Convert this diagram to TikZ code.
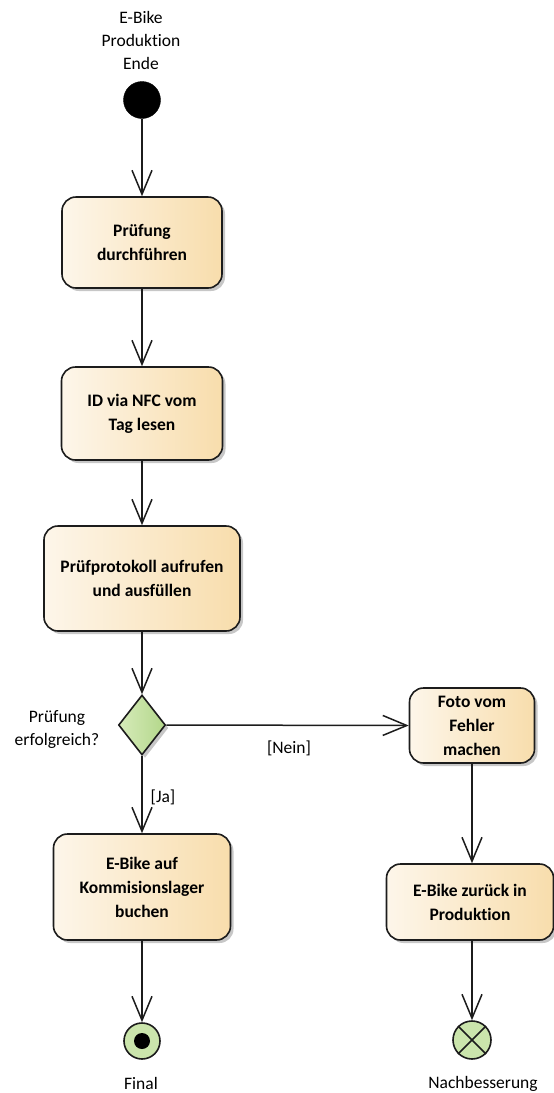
\documentclass[tikz,border=0pt]{standalone}
\usepackage{fontspec}
\setmainfont{Carlito}[Ligatures={NoCommon,NoRequired,NoContextual}]
\usetikzlibrary{arrows.meta,shapes.geometric,shadows}

\definecolor{boxleft}{HTML}{FDF6EA}
\definecolor{boxright}{HTML}{F8DDAC}
\definecolor{greenleft}{HTML}{D6EBBA}
\definecolor{greenright}{HTML}{B3D78A}
\definecolor{edge}{HTML}{1C1C1C}

\tikzset{
  txt/.style={font=\fontsize{17.5}{23}\selectfont, align=center, inner sep=0pt},
  softshadow/.style={drop shadow={shadow xshift=3pt, shadow yshift=-3pt, fill=black, opacity=0.22}},
  action/.style={draw=edge, line width=1.6pt, rounded corners=14pt,
    left color=boxleft, right color=boxright, softshadow,
    font=\fontsize{17.5}{24}\selectfont\bfseries, align=center, inner sep=0pt},
  decision/.style={diamond, draw=edge, line width=1.6pt, inner sep=0pt,
    left color=greenleft, right color=greenright, softshadow},
  initial/.style={circle, fill=black, draw=black, minimum size=37pt, inner sep=0pt},
  endnode/.style={circle, draw=edge, line width=1.6pt, fill=greenleft!70!greenright,
    minimum size=36pt, inner sep=0pt},
  flow/.style={draw=edge, line width=1.5pt,
    -{Straight Barb[length=24pt, width=20pt, line width=1.5pt]}},
}

\begin{document}
\begin{tikzpicture}[x=1pt, y=-1pt]
  \useasboundingbox (0,0) rectangle (554,1093);

  % start of the flow
  \node[txt] (startlbl) at (141,40) {E-Bike\\Produktion\\Ende};
  \node[initial] (start) at (142,100) {};

  % main column of actions
  \node[action, minimum width=160pt, minimum height=91pt] (pruef) at (142,242.5) {Prüfung\\durchführen};
  \node[action, minimum width=161pt, minimum height=93pt] (nfc) at (142,413.5) {ID via NFC vom\\Tag lesen};
  \node[action, minimum width=196pt, minimum height=105pt] (protokoll) at (142,578.5) {Prüfprotokoll aufrufen\\und ausfüllen};

  % decision
  \node[decision, minimum width=47pt, minimum height=60pt] (dec) at (142,725) {};
  \node[txt] (declbl) at (57,729) {Prüfung\\erfolgreich?};

  % branch "Ja"
  \node[action, minimum width=177pt, minimum height=106pt] (lager) at (142,887) {E-Bike auf\\Kommisionslager\\buchen};
  \node[endnode] (final) at (142,1041) {};
  \fill[black] (final.center) circle (8pt);
  \node[txt] (finallbl) at (141,1083) {Final};

  % branch "Nein"
  \node[action, minimum width=125pt, minimum height=75pt] (foto) at (472,725.5) {Foto vom\\Fehler\\machen};
  \node[action, minimum width=167pt, minimum height=76pt] (zurueck) at (470,902) {E-Bike zurück in\\Produktion};
  \node[endnode, minimum size=38pt] (flowend) at (472,1040) {};
  \draw[edge, line width=1.6pt] (flowend.north west) -- (flowend.south east);
  \draw[edge, line width=1.6pt] (flowend.north east) -- (flowend.south west);
  \node[txt] (nachlbl) at (483,1084) {Nachbesserung};

  % guard labels
  \node[txt] (nein) at (289,748) {[Nein]};
  \node[txt] (ja) at (163,797) {[Ja]};

  % connectors
  \draw[flow] (start.south) -- (pruef.north);
  \draw[flow] (pruef.south) -- (nfc.north);
  \draw[flow] (nfc.south) -- (protokoll.north);
  \draw[flow] (protokoll.south) -- (dec.north);
  \draw[flow] (dec.east) -- (foto.west);
  \draw[flow] (dec.south) -- (lager.north);
  \draw[flow] (lager.south) -- (final.north);
  \draw[flow] (foto.south) -- (foto.south |- zurueck.north);
  \draw[flow] (zurueck.south -| flowend.north) -- (flowend.north);
\end{tikzpicture}
\end{document}
